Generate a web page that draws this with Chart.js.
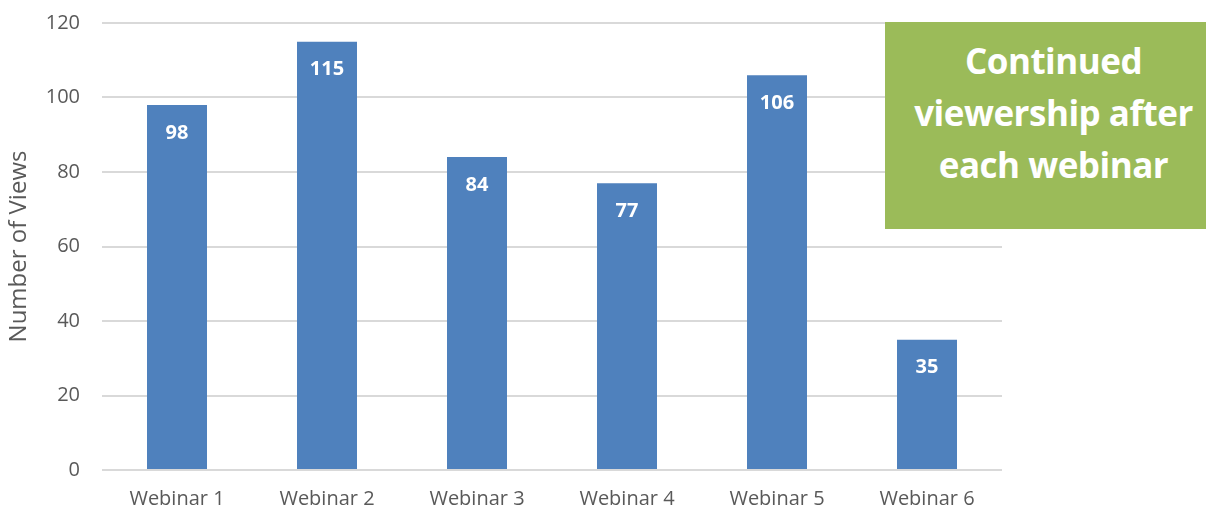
<!DOCTYPE html>
<html>
<head>
<meta charset="utf-8">
<script src="https://cdn.jsdelivr.net/npm/chart.js@4/dist/chart.umd.min.js"></script>
<style>
  html, body { margin: 0; padding: 0; background: #fff; }
  #wrap { position: relative; width: 1206px; height: 510px; }
  #note {
    position: absolute; left: 885px; top: 22px; width: 321px; height: 207px;
    background: #9BBB59; color: #fff;
    font-family: "Open Sans", "Noto Sans", sans-serif; font-weight: 700;
    font-size: 35px; line-height: 52px; letter-spacing: -0.5px;
    display: flex; align-items: center; justify-content: center; text-align: center;
    box-sizing: border-box; padding: 0 0 26px 16px;
  }
</style>
</head>
<body>
<div id="wrap">
  <canvas id="c" width="1206" height="510"></canvas>
  <div id="note">Continued<br>viewership after<br>each webinar</div>
</div>
<script>
const categories = ["Webinar 1", "Webinar 2", "Webinar 3", "Webinar 4", "Webinar 5", "Webinar 6"];
const views = [98, 115, 84, 77, 106, 35];
const yTicks = [0, 20, 40, 60, 80, 100, 120];

const FONT = '"Open Sans", "Noto Sans", sans-serif';

// White bold value labels just inside the top of each bar
const valueLabels = {
  id: 'valueLabels',
  afterDatasetsDraw(chart) {
    const ctx = chart.ctx;
    const meta = chart.getDatasetMeta(0);
    ctx.save();
    ctx.fillStyle = '#ffffff';
    ctx.font = 'bold 20px ' + FONT;
    ctx.textAlign = 'center';
    ctx.textBaseline = 'middle';
    meta.data.forEach((bar, i) => {
      ctx.fillText(String(views[i]), bar.x, bar.y + 28);
    });
    ctx.restore();
  }
};

new Chart(document.getElementById('c'), {
  type: 'bar',
  data: {
    labels: categories,
    datasets: [{
      data: views,
      backgroundColor: '#4F81BD',
      borderWidth: 0,
      categoryPercentage: 1,
      barPercentage: 0.4
    }]
  },
  options: {
    responsive: false,
    animation: false,
    layout: { autoPadding: false, padding: { top: 23, right: 204, left: 0, bottom: 0 } },
    plugins: { legend: { display: false }, tooltip: { enabled: false } },
    scales: {
      x: {
        grid: { display: false, drawTicks: false },
        border: { display: false },
        ticks: { color: '#595959', font: { family: FONT, size: 20 }, padding: 17, maxRotation: 0 },
        afterFit(s) { s.height = 40; s.paddingLeft = 0; s.paddingRight = 0; }
      },
      y: {
        min: 0, max: 120,
        afterBuildTicks(s) { s.ticks = yTicks.map(v => ({ value: v })); },
        grid: { color: '#D9D9D9', lineWidth: 2, drawTicks: false },
        border: { display: false },
        ticks: { color: '#595959', font: { family: FONT, size: 20 }, padding: 22 },
        title: { display: true, text: 'Number of Views', color: '#595959', font: { family: FONT, size: 24 }, padding: { top: 5, bottom: 0 } },
        afterFit(s) { s.width = 102; s.paddingTop = 0; s.paddingBottom = 0; }
      }
    }
  },
  plugins: [valueLabels]
});
</script>
</body>
</html>
